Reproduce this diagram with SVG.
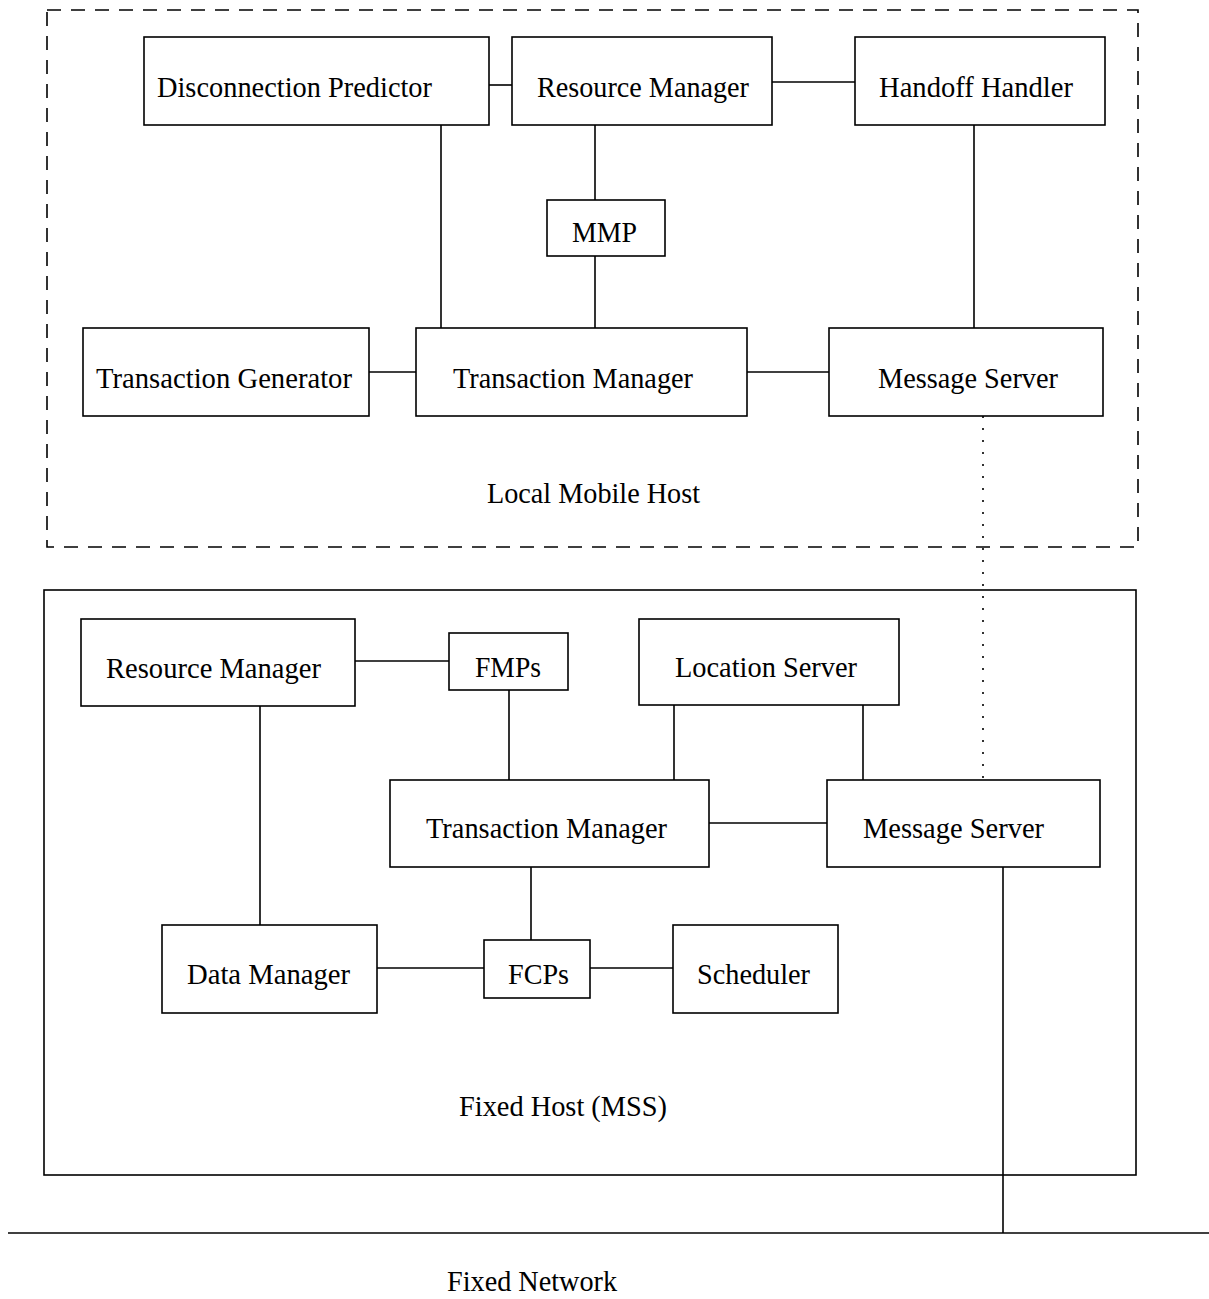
<svg xmlns="http://www.w3.org/2000/svg" width="1209" height="1299" viewBox="0 0 1209 1299">
  <style>
    .box { fill: #fff; stroke: #000; stroke-width: 1.6; }
    .lbl { font-family: "Liberation Serif", "Times New Roman", serif; font-size: 30px; fill: #000; }
    .link { stroke: #000; stroke-width: 1.6; fill: none; }
    .host { fill: none; stroke: #000; stroke-width: 1.6; }
  </style>
  <rect width="1209" height="1299" fill="#fff"/>

  <!-- host boundaries -->
  <g id="local-mobile-host">
    <rect class="host" x="47" y="10" width="1091" height="537" stroke-dasharray="14 10"/>
    <text class="lbl" x="487" y="503" textLength="213" lengthAdjust="spacingAndGlyphs">Local Mobile Host</text>
  </g>
  <g id="fixed-host">
    <rect class="host" x="44" y="590" width="1092" height="585"/>
    <text class="lbl" x="459" y="1116" textLength="208" lengthAdjust="spacingAndGlyphs">Fixed Host (MSS)</text>
  </g>
  <g id="fixed-network">
    <line class="link" x1="8" y1="1233" x2="1209" y2="1233"/>
    <text class="lbl" x="447" y="1291" textLength="170" lengthAdjust="spacingAndGlyphs">Fixed Network</text>
  </g>

  <!-- connectors -->
  <g id="connectors">
    <line class="link" x1="489" y1="85" x2="512" y2="85"/>
    <line class="link" x1="772" y1="82" x2="855" y2="82"/>
    <line class="link" x1="595" y1="125" x2="595" y2="200"/>
    <line class="link" x1="595" y1="256" x2="595" y2="328"/>
    <line class="link" x1="441" y1="125" x2="441" y2="328"/>
    <line class="link" x1="974" y1="125" x2="974" y2="328"/>
    <line class="link" x1="369" y1="372" x2="416" y2="372"/>
    <line class="link" x1="747" y1="372" x2="829" y2="372"/>
    <line class="link" x1="983" y1="416" x2="983" y2="780" stroke-width="1.4" stroke-dasharray="2 10"/>
    <line class="link" x1="355" y1="661" x2="449" y2="661"/>
    <line class="link" x1="509" y1="690" x2="509" y2="780"/>
    <line class="link" x1="674" y1="705" x2="674" y2="780"/>
    <line class="link" x1="863" y1="705" x2="863" y2="780"/>
    <line class="link" x1="709" y1="823" x2="827" y2="823"/>
    <line class="link" x1="260" y1="706" x2="260" y2="925"/>
    <line class="link" x1="531" y1="867" x2="531" y2="940"/>
    <line class="link" x1="377" y1="968" x2="484" y2="968"/>
    <line class="link" x1="590" y1="968" x2="673" y2="968"/>
    <line class="link" x1="1003" y1="867" x2="1003" y2="1233"/>
  </g>

  <!-- local mobile host nodes -->
  <g id="disconnection-predictor">
    <rect class="box" x="144" y="37" width="345" height="88"/>
    <text class="lbl" x="157" y="97" textLength="275" lengthAdjust="spacingAndGlyphs">Disconnection Predictor</text>
  </g>
  <g id="mh-resource-manager">
    <rect class="box" x="512" y="37" width="260" height="88"/>
    <text class="lbl" x="537" y="97" textLength="212" lengthAdjust="spacingAndGlyphs">Resource Manager</text>
  </g>
  <g id="handoff-handler">
    <rect class="box" x="855" y="37" width="250" height="88"/>
    <text class="lbl" x="879" y="97" textLength="194" lengthAdjust="spacingAndGlyphs">Handoff Handler</text>
  </g>
  <g id="mmp">
    <rect class="box" x="547" y="200" width="118" height="56"/>
    <text class="lbl" x="572" y="242" textLength="65" lengthAdjust="spacingAndGlyphs">MMP</text>
  </g>
  <g id="transaction-generator">
    <rect class="box" x="83" y="328" width="286" height="88"/>
    <text class="lbl" x="96" y="388" textLength="256" lengthAdjust="spacingAndGlyphs">Transaction Generator</text>
  </g>
  <g id="mh-transaction-manager">
    <rect class="box" x="416" y="328" width="331" height="88"/>
    <text class="lbl" x="453" y="388" textLength="240" lengthAdjust="spacingAndGlyphs">Transaction Manager</text>
  </g>
  <g id="mh-message-server">
    <rect class="box" x="829" y="328" width="274" height="88"/>
    <text class="lbl" x="878" y="388" textLength="180" lengthAdjust="spacingAndGlyphs">Message Server</text>
  </g>

  <!-- fixed host nodes -->
  <g id="fh-resource-manager">
    <rect class="box" x="81" y="619" width="274" height="87"/>
    <text class="lbl" x="106" y="678" textLength="215" lengthAdjust="spacingAndGlyphs">Resource Manager</text>
  </g>
  <g id="fmps">
    <rect class="box" x="449" y="633" width="119" height="57"/>
    <text class="lbl" x="475" y="677" textLength="66" lengthAdjust="spacingAndGlyphs">FMPs</text>
  </g>
  <g id="location-server">
    <rect class="box" x="639" y="619" width="260" height="86"/>
    <text class="lbl" x="675" y="677" textLength="182" lengthAdjust="spacingAndGlyphs">Location Server</text>
  </g>
  <g id="fh-transaction-manager">
    <rect class="box" x="390" y="780" width="319" height="87"/>
    <text class="lbl" x="426" y="838" textLength="241" lengthAdjust="spacingAndGlyphs">Transaction Manager</text>
  </g>
  <g id="fh-message-server">
    <rect class="box" x="827" y="780" width="273" height="87"/>
    <text class="lbl" x="863" y="838" textLength="181" lengthAdjust="spacingAndGlyphs">Message Server</text>
  </g>
  <g id="data-manager">
    <rect class="box" x="162" y="925" width="215" height="88"/>
    <text class="lbl" x="187" y="984" textLength="163" lengthAdjust="spacingAndGlyphs">Data Manager</text>
  </g>
  <g id="fcps">
    <rect class="box" x="484" y="940" width="106" height="58"/>
    <text class="lbl" x="508" y="984" textLength="61" lengthAdjust="spacingAndGlyphs">FCPs</text>
  </g>
  <g id="scheduler">
    <rect class="box" x="673" y="925" width="165" height="88"/>
    <text class="lbl" x="697" y="984" textLength="113" lengthAdjust="spacingAndGlyphs">Scheduler</text>
  </g>
</svg>
